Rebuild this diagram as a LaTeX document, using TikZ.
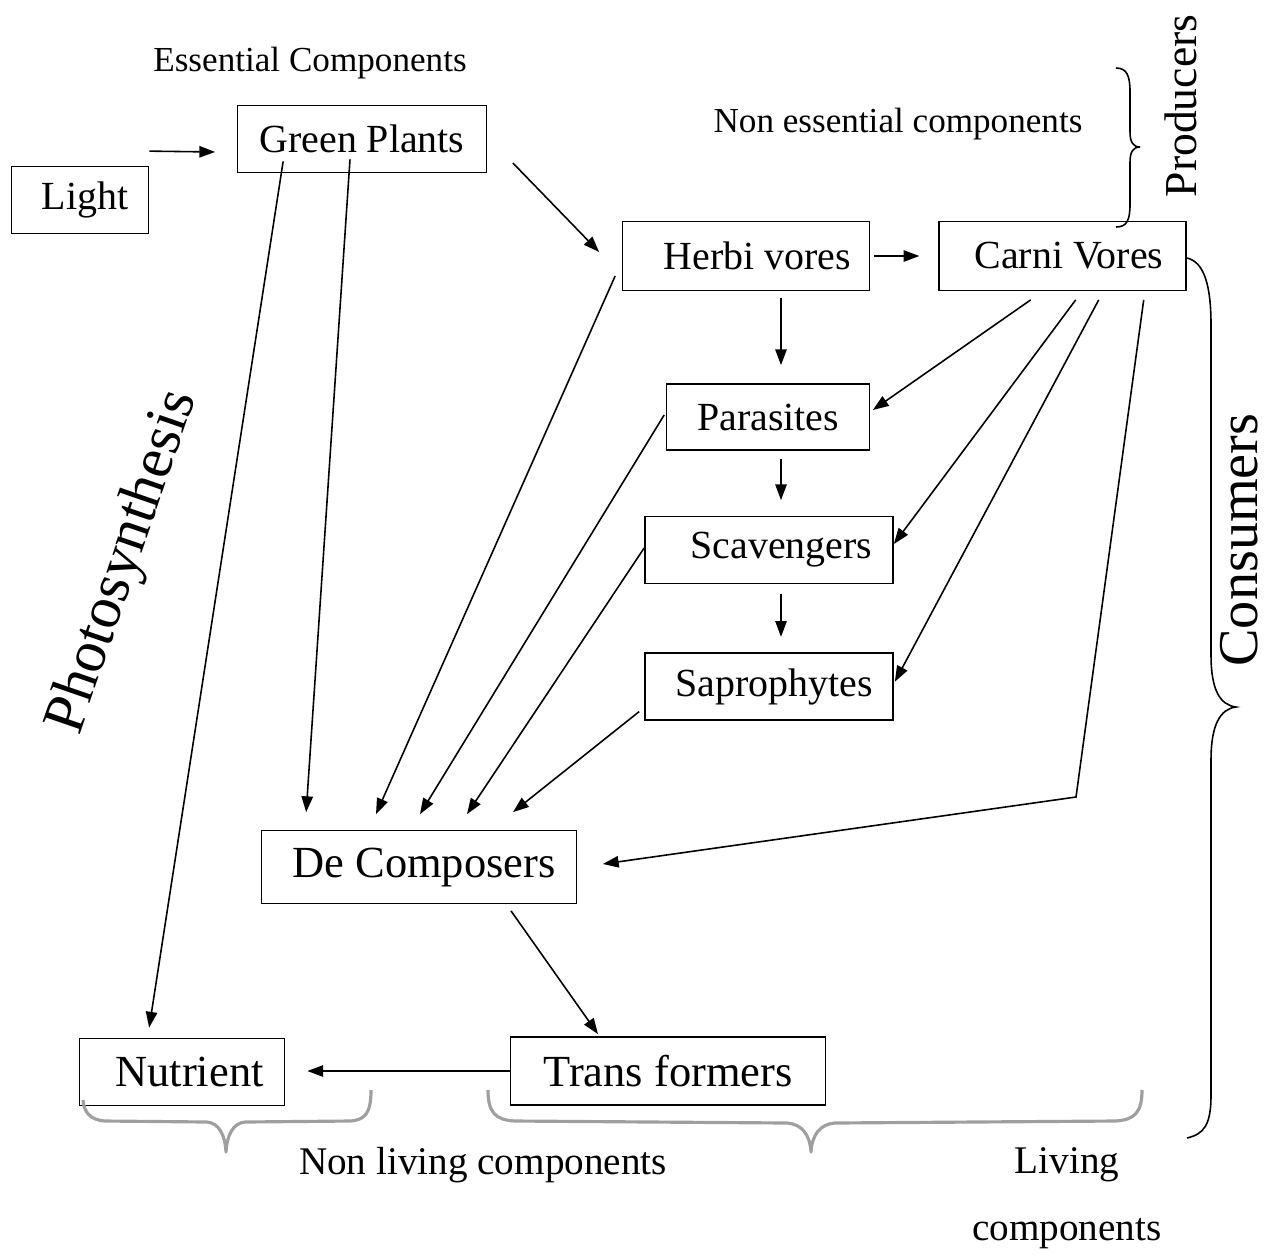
\documentclass[tikz,border=0pt]{standalone}
\usepackage{fontspec}
\setmainfont{Liberation Serif}
\usetikzlibrary{positioning, arrows.meta, calc}

\begin{document}
\begin{tikzpicture}[
    x=0.02cm, y=-0.02cm,
    box/.style={rectangle, draw, line width=1pt, inner sep=0pt, align=center, font=\fontsize{22.7}{27}\selectfont},
    bigbox/.style={box, font=\fontsize{25.3}{30}\selectfont},
    note/.style={inner sep=0pt, font=\fontsize{20}{24}\selectfont},
    bottomnote/.style={inner sep=0pt, font=\fontsize{22.3}{26}\selectfont},
    arrow/.style={-{Triangle[length=9pt, width=6.5pt]}, line width=0.9pt},
    bracket/.style={line width=0.9pt},
    greybracket/.style={draw=gray!75, line width=1.8pt, line join=round},
]
\useasboundingbox (0,0) rectangle (1266,1254);

% ============ Top ============
\node[note] (essential) at (310,63) {Essential Components};
\node[note] (nonessential) at (898,124) {Non essential components};

\node[box, minimum width=4.98cm, minimum height=1.34cm] (green) at (362,139) {Green Plants};
\node[box, minimum width=2.74cm, minimum height=1.34cm] (light) at (80,200) {\hspace*{0.2cm}Light};

% ============ Consumers ============
\node[box, minimum width=4.94cm, minimum height=1.38cm] (herbi) at (746,256) {\hspace*{0.45cm}Herbi vores};
\node[box, minimum width=4.94cm, minimum height=1.38cm, right=1.36cm of herbi] (carni) {\hspace*{0.25cm}Carni Vores};

\node[box, minimum width=4.06cm, minimum height=1.32cm] (parasites) at (768,417) {Parasites};
\node[box, minimum width=4.96cm, minimum height=1.34cm] (scav) at (769,550) {\hspace*{0.5cm}Scavengers};
\node[box, minimum width=4.96cm, minimum height=1.34cm, below=1.36cm of scav] (sapro) {\hspace*{0.2cm}Saprophytes};

% ============ Bottom ============
\node[bigbox, minimum width=6.3cm, minimum height=1.46cm] (decomp) at (419,867) {\hspace*{0.2cm}De Composers};
\node[bigbox, minimum width=4.1cm, minimum height=1.34cm] (nutrient) at (182,1072) {\hspace*{0.3cm}Nutrient};
\node[bigbox, minimum width=6.3cm, minimum height=1.36cm] (trans) at (668,1071) {Trans formers};

\node[bottomnote] (nonliving) at (483,1165) {Non living components};
\node[bottomnote] (living) at (1067,1165) {Living};
\node[bottomnote] (livingcomp) at (1067,1234) {components};

% ============ Side labels ============
\node[inner sep=0pt, rotate=71, font=\fontsize{34}{40}\selectfont] (photo) at (124,562) {Photosynthesis};
\node[inner sep=0pt, rotate=90, font=\fontsize{26}{30}\selectfont] (producers) at (1181,106) {Producers};
\node[inner sep=0pt, rotate=90, font=\fontsize{32}{37}\selectfont] (consumers) at (1239,540) {Consumers};

\coordinate (bend) at (1076,797);

% ============ Arrows ============
\draw[arrow] ($(light.north east)+(0,-14.5)$) -- ($(green.west)+(-21.5,13)$);
\draw[arrow] ($(green.east)+(25.5,24)$) -- ($(herbi.west)+(-22.5,-4)$);
\draw[arrow, shorten <=2pt, shorten >=0.38cm] (herbi.east) -- (carni.west);

% food chain
\draw[arrow] ($(herbi.south)+(35,6.5)$) -- ($(parasites.north)+(13,-18)$);
\draw[arrow] ($(parasites.south)+(13,8)$) -- ($(scav.north)+(12,-15.5)$);
\draw[arrow] ($(scav.south)+(12,9.5)$) -- ($(sapro.north)+(12,-15.5)$);

% carnivores
\draw[arrow] ($(carni.south)+(-32,8.5)$) -- ($(parasites.east)+(2.5,-7)$);
\draw[arrow] ($(carni.south)+(13,8.5)$) -- ($(scav.east)+(0,-6)$);
\draw[arrow] ($(carni.south)+(36,8.5)$) -- ($(sapro.east)+(1,-5)$);
\draw[arrow] ($(carni.south)+(81,8.5)$) -- (bend) -- ($(decomp.east)+(25.5,-3)$);

% into decomposers
\draw[arrow] ($(green.south)+(-12,-14)$) -- ($(decomp.north west)+(45.5,-17.5)$);
\draw[arrow] ($(herbi.west)+(-6.5,20)$) -- ($(decomp.north)+(-43,-15.5)$);
\draw[arrow] ($(parasites.west)+(-1.5,-2)$) -- ($(decomp.north)+(1,-15.5)$);
\draw[arrow] ($(scav.west)+(0,-2)$) -- ($(decomp.north)+(48,-15.5)$);
\draw[arrow] ($(sapro.south west)+(-5,-9.5)$) -- ($(decomp.north)+(94,-17.5)$);

% photosynthesis, recycling
\draw[arrow] ($(green.south west)+(46.5,-12)$) -- ($(nutrient.north west)+(70.5,-10)$);
\draw[arrow] ($(decomp.south)+(92,6.5)$) -- ($(trans.north)+(-70,-2)$);
\draw[arrow, shorten >=0.44cm] (trans.west) -- (nutrient.east |- trans.west);

% ============ Brackets ============
\draw[bracket] (1116,68) .. controls (1127,68) and (1130,76) .. (1130,92) -- (1130,132)
    .. controls (1130,142) and (1133,147) .. (1140,147)
    .. controls (1133,147) and (1130,152) .. (1130,162) -- (1130,204)
    .. controls (1130,220) and (1127,227) .. (1116,227);

\draw[bracket] (1187,258) .. controls (1204,262) and (1211,285) .. (1211,325) -- (1211,655)
    .. controls (1211,690) and (1220,705) .. (1236,707)
    .. controls (1220,709) and (1211,725) .. (1211,760) -- (1211,1095)
    .. controls (1211,1125) and (1204,1134) .. (1187,1138);

\draw[greybracket] (371,1090) .. controls (371,1112) and (366,1120) .. (350,1121) -- (245,1122)
    .. controls (233,1123) and (227,1135) .. (226,1152)
    .. controls (225,1135) and (219,1123) .. (207,1122) -- (105,1121)
    .. controls (90,1120) and (84,1112) .. (83,1100);

\draw[greybracket] (1142,1090) .. controls (1142,1112) and (1135,1120) .. (1115,1121) -- (835,1123)
    .. controls (820,1124) and (812,1135) .. (811,1152)
    .. controls (810,1135) and (802,1124) .. (787,1123) -- (515,1121)
    .. controls (495,1120) and (488,1112) .. (488,1090);

\end{tikzpicture}
\end{document}
